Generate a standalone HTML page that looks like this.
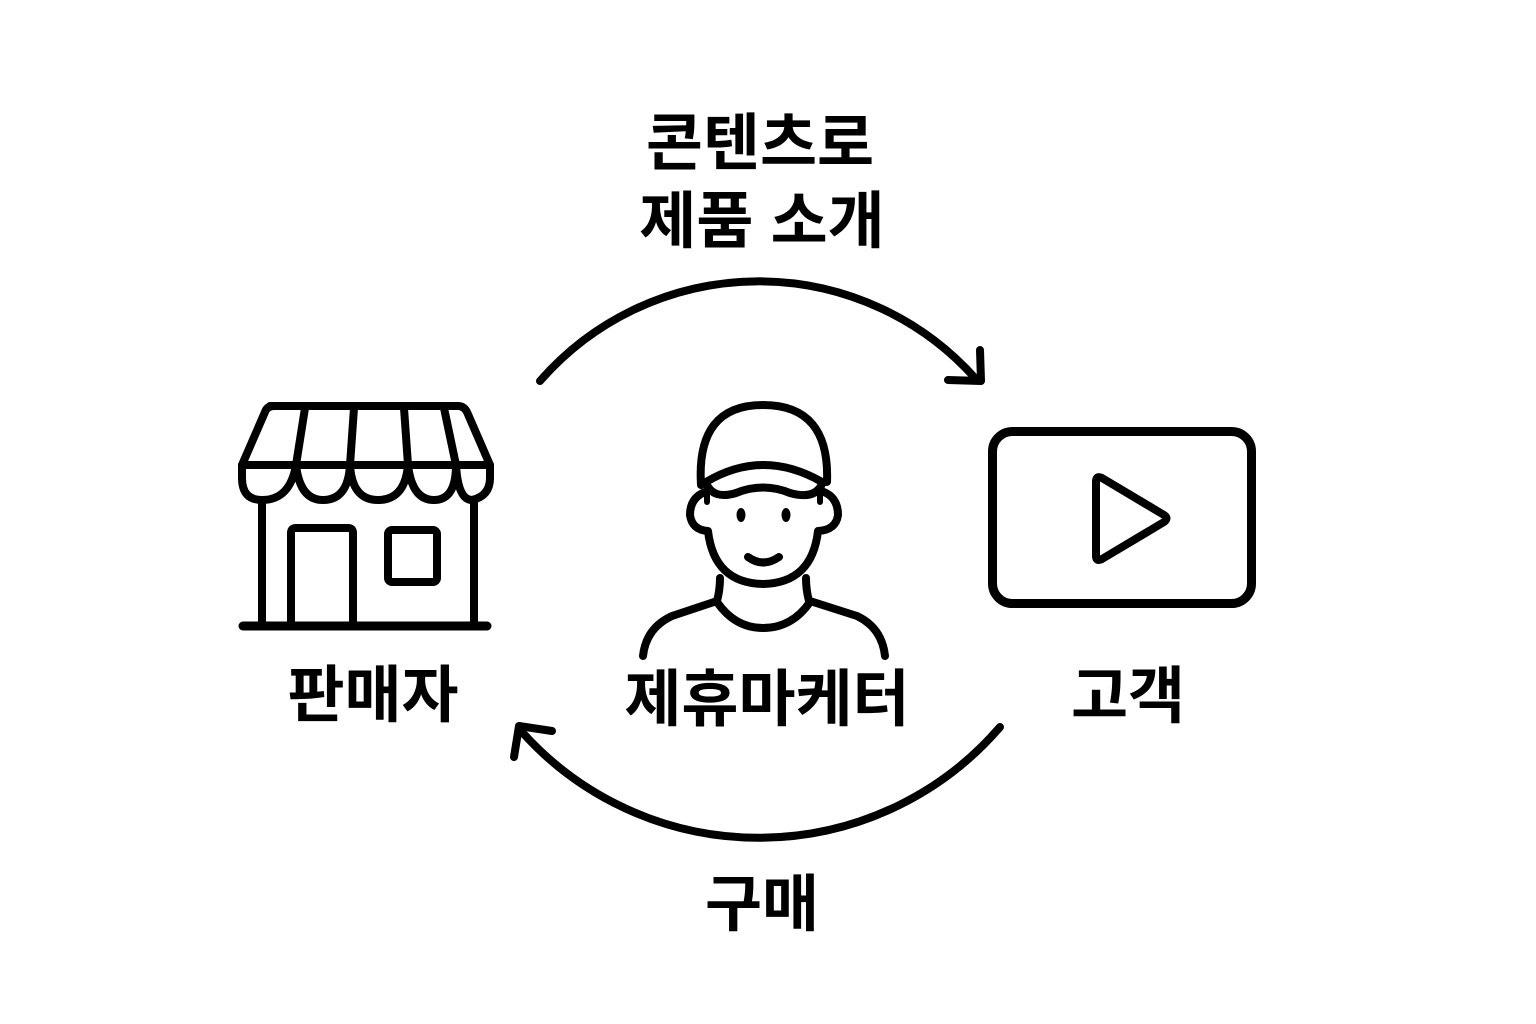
<!DOCTYPE html>
<html><head><meta charset="utf-8"><style>
html,body{margin:0;padding:0;background:#fff;}
svg{display:block}
text{font-family:"Liberation Sans","Noto Sans CJK KR",sans-serif;font-weight:bold;font-size:62px;fill:#000;text-anchor:middle;dominant-baseline:central}
</style></head><body>
<svg width="1536" height="1024" viewBox="0 0 1536 1024" xmlns="http://www.w3.org/2000/svg">
<rect width="1536" height="1024" fill="#fff"/>
<g fill="none" stroke="#000" stroke-width="8" stroke-linecap="round" stroke-linejoin="round">
<path d="M540 381 A290 290 0 0 1 975 378"/>
<path d="M948 380 L981 381 L980 350"/>
<path d="M1000 727 A318 318 0 0 1 522 732"/>
<path d="M514 757 L519 726 L552 731"/>
<path d="M270 406 H458 Q464 406 467 412 L490 465 H242 L265 412 Q267 406 274 406 Z"/>
<path d="M305 408 L296 465 M354 408 L350 465 M404 408 L408 465 M444 408 L456 465"/>
<path d="M242 465 V478 Q242 500 262 500 Q290 500 296 465 Q300 500 323 500 Q348 500 350 465 Q352 500 378 500 Q405 500 408 465 Q412 500 434 500 Q456 500 456 465 Q458 500 472 500 Q490 496 490 478 V465"/>
<path d="M262 500 V625 M474 500 V625"/>
<path d="M243 626 H487" stroke-width="9"/>
<path d="M291 625 V533 Q291 528 296 528 H348 Q353 528 353 533 V625"/>
<rect x="388" y="530" width="49" height="52" rx="4"/>
<path d="M701 485 Q696 405 763 405 Q830 405 827 482"/>
<path d="M706 482 Q763 448 822 482"/>
<path d="M706 483 Q713 500 736 493 Q763 482 790 493 Q815 500 822 484"/>
<path d="M707 495 V502 M820 495 V502" stroke-width="6"/>
<path d="M705 492 Q690 498 690 515 Q692 530 708 531 Q714 583 763 584 Q812 583 818 531 Q836 530 838 515 Q838 498 824 492"/>
<path d="M720 578 Q720 590 717 601 M806 578 Q806 590 809 601"/>
<path d="M717 602 Q735 628 763 628 Q792 628 810 602"/>
<path d="M717 601 L672 616 Q646 628 643 656 M810 601 L857 616 Q882 628 885 656"/>
<path d="M748 557 Q763 568 779 557"/>
<rect x="992.5" y="431.5" width="259" height="172" rx="20" stroke-width="9"/>
<path d="M1096 482 V556 Q1096 562 1102 559 L1164 522 Q1169 518 1164 515 L1102 478 Q1096 475 1096 482 Z"/>
</g>
<ellipse cx="741" cy="515" rx="4.5" ry="7" fill="#000"/>
<ellipse cx="786" cy="515" rx="4.5" ry="7" fill="#000"/>
<text x="760" y="144">콘텐츠로</text>
<text x="762" y="222">제품 소개</text>
<text x="373" y="696">판매자</text>
<text x="767" y="700">제휴마케터</text>
<text x="1128" y="697">고객</text>
<text x="762" y="905">구매</text>
</svg>
</body></html>
